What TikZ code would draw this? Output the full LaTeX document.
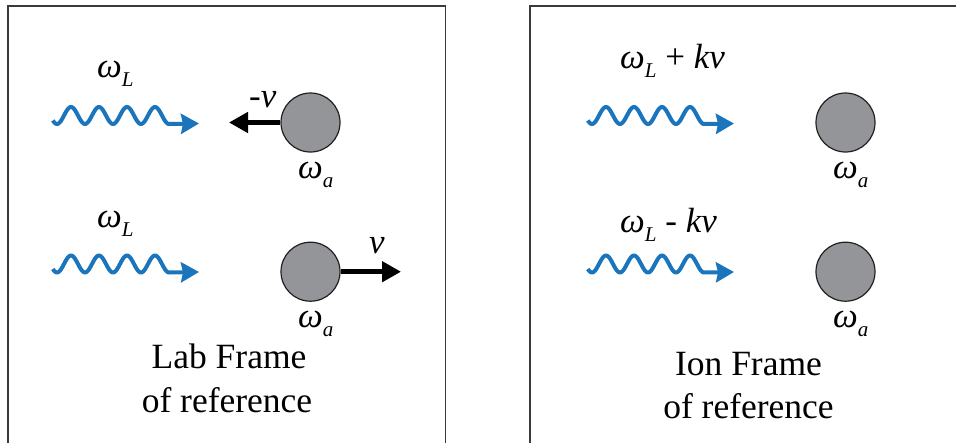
\documentclass[tikz,border=0pt]{standalone}
\usepackage{fontspec}
\setmainfont{Liberation Serif}
\usetikzlibrary{arrows.meta}
\definecolor{waveblue}{HTML}{1B75BC}
\definecolor{iongray}{HTML}{939598}
\definecolor{ionline}{HTML}{231F20}
\definecolor{boxline}{HTML}{3A3A3A}
\newcommand\wlabel[2]{{\fontsize{35}{35}\selectfont\itshape #1}\raisebox{-9pt}{\fontsize{21}{21}\selectfont\itshape #2}}
\begin{document}
\begin{tikzpicture}[x=1pt,y=-1pt,
  frame/.style={draw=boxline,line width=1.3pt},
  ion/.style={circle,draw=ionline,fill=iongray,line width=1.2pt,minimum size=59pt,inner sep=0pt},
  photon/.style={draw=waveblue,line width=4pt,line join=round,-{Stealth[length=18pt,width=20pt,inset=2pt]}},
  vel/.style={draw=black,line width=4.5pt,-{Triangle[length=19pt,width=20pt]}},
  lbl/.style={inner sep=0pt,anchor=base west,font=\fontsize{35}{35}\selectfont},
  title/.style={inner sep=0pt,anchor=base,font=\fontsize{35.5}{40}\selectfont}
]
\useasboundingbox (0,0) rectangle (956,442);
\clip (0,0) rectangle (956,442);
\fill[white] (0,0) rectangle (956,442);

% frames
\draw[frame] (8,6) rectangle (445.5,460);
\draw[frame] (530,6) rectangle (980,460);

% ---------- Lab frame ----------
\coordinate (w1tip) at (199,123.5);
\coordinate (w2tip) at (199,272);
\draw[photon] plot[domain=-0.15:4,samples=120,smooth] ({57+28*\x},{115.5+8.5*cos(360*\x)}) -- (w1tip);
\draw[photon] plot[domain=-0.15:4,samples=120,smooth] ({57+28*\x},{264+8.5*cos(360*\x)}) -- (w2tip);

\node[ion] (ion1) at (310.5,122.5) {};
\node[ion] (ion2) at (310.5,271.7) {};
\coordinate (v1tip) at (229,122.5);
\coordinate (v2tip) at (401,271.7);
\draw[vel] (ion1.west) -- (v1tip);
\draw[vel] (ion2.east) -- (v2tip);

\node[lbl] (wl1) at (97,77) {\wlabel{ω}{L}};
\node[lbl] (wl2) at (97,227) {\wlabel{ω}{L}};
\node[lbl] (mv) at (249,107) {-\textit{v}};
\node[lbl] (pv) at (369,253) {\textit{v}};
\node[lbl] (wa1) at (298,178) {\wlabel{ω}{a}};
\node[lbl] (wa2) at (298,327) {\wlabel{ω}{a}};

\node[title] (lab1) at (229,368) {Lab Frame};
\node[title] (lab2) at (227,412) {of reference};

% ---------- Ion frame ----------
\coordinate (w3tip) at (734,123.5);
\coordinate (w4tip) at (734,272);
\draw[photon] plot[domain=-0.15:4,samples=120,smooth] ({592+28*\x},{115.5+8.5*cos(360*\x)}) -- (w3tip);
\draw[photon] plot[domain=-0.15:4,samples=120,smooth] ({592+28*\x},{264+8.5*cos(360*\x)}) -- (w4tip);

\node[ion] (ion3) at (845.5,122.5) {};
\node[ion] (ion4) at (845.5,271.7) {};

\node[lbl] (wl3) at (620,68) {\wlabel{ω}{L} + \textit{kv}};
\node[lbl] (wl4) at (620,232) {\wlabel{ω}{L} - \textit{kv}};
\node[lbl] (wa3) at (833,178) {\wlabel{ω}{a}};
\node[lbl] (wa4) at (833,327) {\wlabel{ω}{a}};

\node[title] (ion1t) at (748.5,375) {Ion Frame};
\node[title] (ion2t) at (748.5,418) {of reference};
\end{tikzpicture}
\end{document}
